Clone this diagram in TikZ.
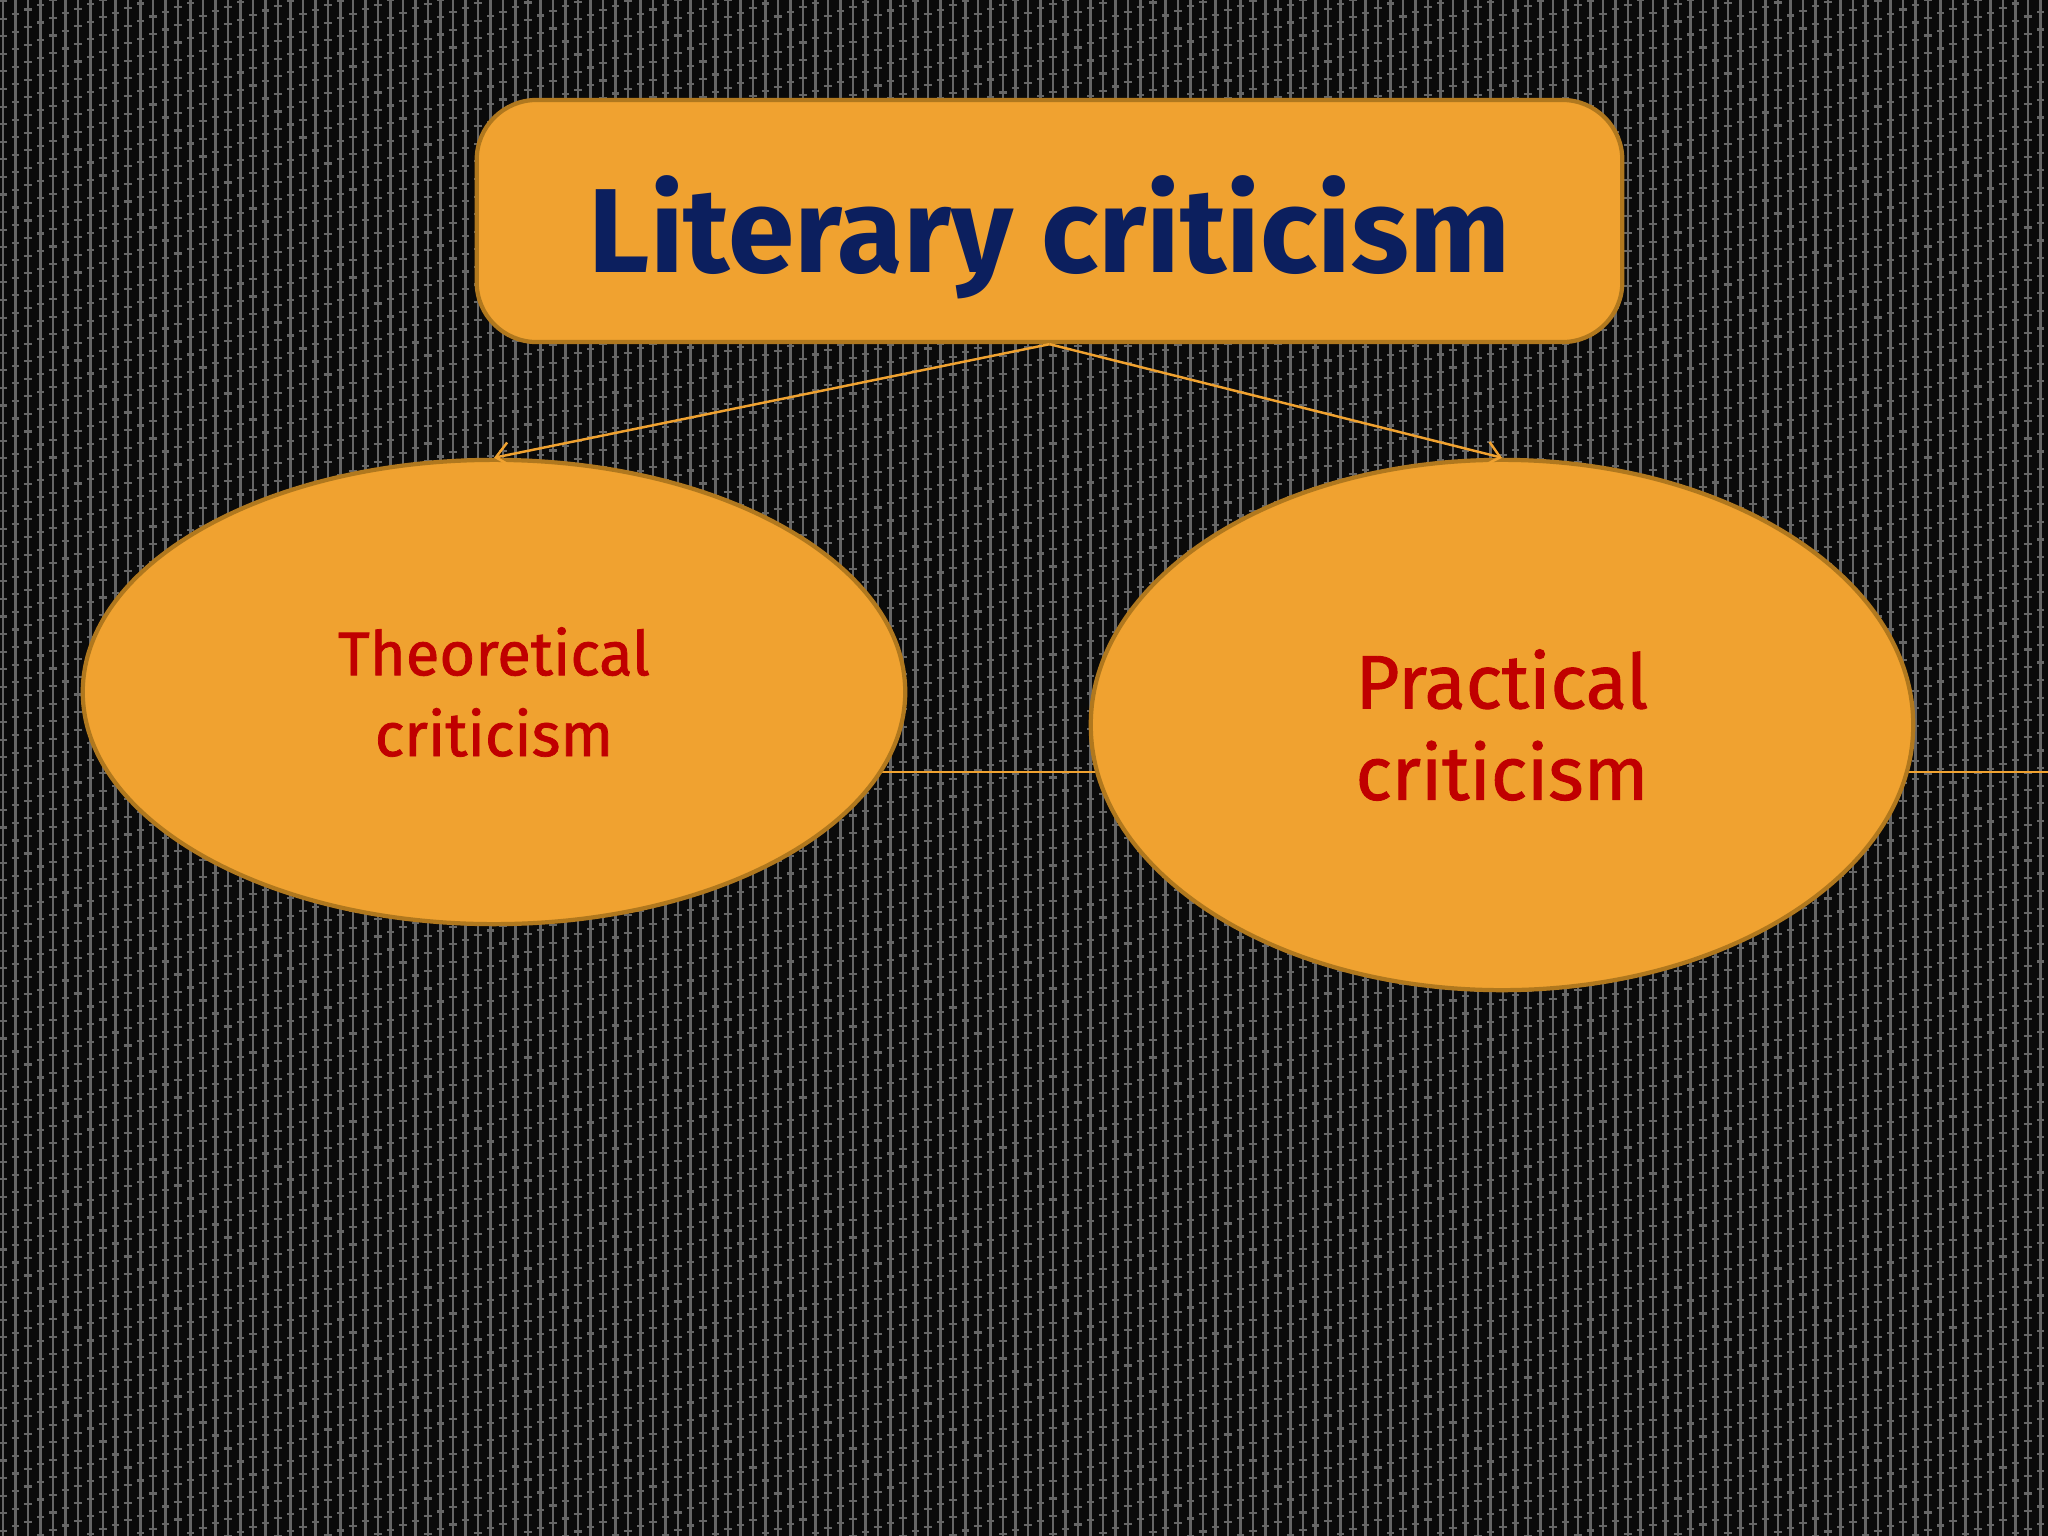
\documentclass[tikz,border=0pt]{standalone}
\usepackage{fontspec}
\setmainfont{Fira Sans}
\newfontfamily\medfont{Fira Sans}[BoldFont={Fira Sans},BoldFeatures={FakeBold=1.2}]
\usetikzlibrary{shapes.geometric,arrows.meta,backgrounds}
\definecolor{bgdark}{HTML}{0A0A0A}
\definecolor{bgline}{HTML}{666666}
\definecolor{orfill}{HTML}{F0A230}
\definecolor{ordraw}{HTML}{B0781E}
\definecolor{navy}{HTML}{0C1F5E}
\definecolor{redtxt}{HTML}{C00000}
\tikzset{
  titlebox/.style={draw=ordraw,fill=orfill,line width=1.2pt,rounded corners=0.6cm,
    minimum width=11.45cm,minimum height=2.42cm,inner sep=0pt,text=navy,
    text height=1.02cm,text depth=0cm,
    font=\fontsize{34}{40}\selectfont\bfseries},
  oval/.style={ellipse,draw=ordraw,fill=orfill,line width=1.2pt,inner sep=0pt,
    text=redtxt,align=center},
  link/.style={draw=orfill,line width=0.7pt},
  arrowlink/.style={link,-{Straight Barb[length=4pt,width=7pt]}}
}
\begin{document}
\begin{tikzpicture}[x=0.01cm,y=-0.01cm]
\useasboundingbox (0,0) rectangle (2048,1536);
\node[titlebox] (T) at (1049.5,221) {Literary criticism};
\node[oval,minimum width=8.22cm,minimum height=4.64cm,
  font=\fontsize{17.5}{23}\medfont\bfseries] (L) at (494,692) {Theoretical\\criticism};
\node[oval,minimum width=8.22cm,minimum height=5.30cm,
  font=\fontsize{21.5}{26}\medfont\bfseries] (R) at (1502,725) {Practical\\criticism};
\coordinate (E) at (2048,772);
\begin{pgfonlayer}{background}
\fill[bgdark] (0,0) rectangle (2048,1536);
\foreach \i in {0,...,164}{
  \draw[bgline,line width=0.6pt] (\i*12.5+3,0) -- (\i*12.5+3,1536);
  \draw[bgline,line width=2.2pt,dash pattern=on 0.6pt off 4.4pt,dash phase=\i*1.3pt] (\i*12.5+3,0) -- (\i*12.5+3,1536);
}
\draw[link] (L.center |- E) -- (E);
\end{pgfonlayer}
\draw[arrowlink] (T.south) -- (L.north);
\draw[arrowlink] (T.south) -- (R.north);
\end{tikzpicture}
\end{document}
